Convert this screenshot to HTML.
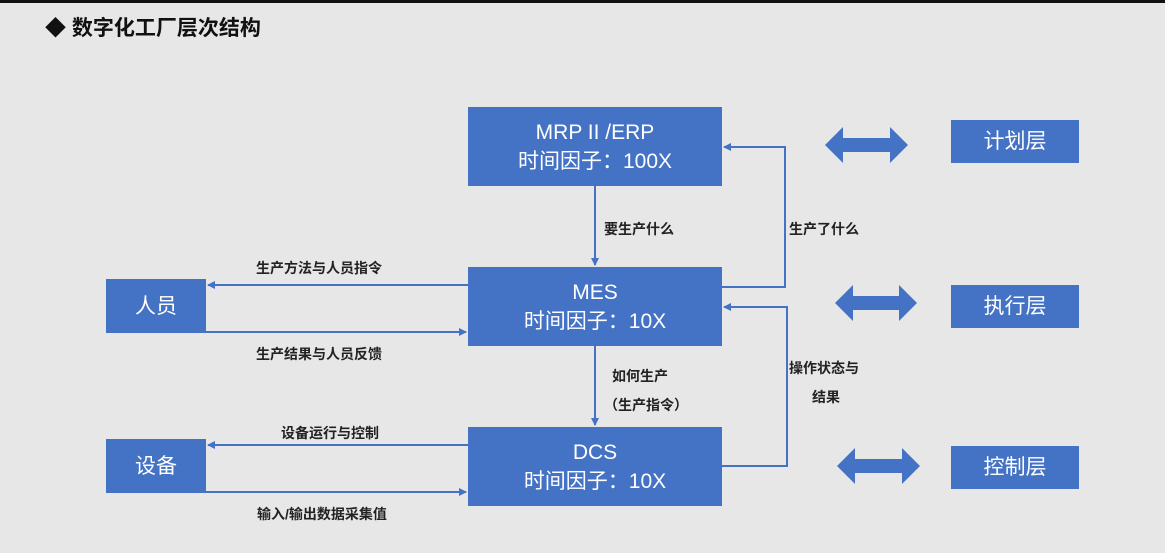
<!DOCTYPE html>
<html><head><meta charset="utf-8"><style>
body{margin:0;width:1165px;height:553px;background:#e7e7e7;position:relative;overflow:hidden;font-family:"Liberation Sans","Noto Sans CJK SC",sans-serif}
.bar{position:absolute;left:0;top:0;width:1165px;height:3px;background:#111}
.title{position:absolute;left:45px;top:12px;font-size:21px;font-weight:bold;color:#111}
.box{position:absolute;background:#4472c4;color:#fff;text-align:center;display:flex;flex-direction:column;justify-content:center;align-items:center}
.big{font-size:21px;line-height:29px}
.lb{position:absolute;font-size:14px;font-weight:bold;color:#222;white-space:nowrap}
svg{position:absolute;left:0;top:0}
</style></head><body>
<div class="bar"></div>
<div class="title">◆ 数字化工厂层次结构</div>
<svg width="1165" height="553">
<defs><marker id="a" markerWidth="8" markerHeight="8" refX="7" refY="4" orient="auto" markerUnits="userSpaceOnUse"><path d="M0,0 L8,4 L0,8 z" fill="#4472c4"/></marker></defs>
<g stroke="#4472c4" stroke-width="2" fill="none">
<line x1="595" y1="186" x2="595" y2="265" marker-end="url(#a)"/>
<line x1="595" y1="346" x2="595" y2="425" marker-end="url(#a)"/>
<polyline points="722,287 785,287 785,147 724,147" marker-end="url(#a)"/>
<polyline points="722,466 787,466 787,307 724,307" marker-end="url(#a)"/>
<line x1="468" y1="285" x2="208" y2="285" marker-end="url(#a)"/>
<line x1="206" y1="332" x2="466" y2="332" marker-end="url(#a)"/>
<line x1="468" y1="445" x2="208" y2="445" marker-end="url(#a)"/>
<line x1="206" y1="492" x2="466" y2="492" marker-end="url(#a)"/>
</g>
<g fill="#4472c4">
<path d="M825,145 L843,127 L843,138 L890,138 L890,127 L908,145 L890,163 L890,152 L843,152 L843,163 Z"/>
<path d="M835,303 L853,285 L853,296 L899,296 L899,285 L917,303 L899,321 L899,310 L853,310 L853,321 Z"/>
<path d="M837,466 L855,448 L855,459 L902,459 L902,448 L920,466 L902,484 L902,473 L855,473 L855,484 Z"/>
</g>
</svg>
<div class="box big" style="left:468px;top:107px;width:254px;height:79px"><div>MRP II /ERP</div><div>时间因子：100X</div></div>
<div class="box big" style="left:468px;top:267px;width:254px;height:79px"><div>MES</div><div>时间因子：10X</div></div>
<div class="box big" style="left:468px;top:427px;width:254px;height:79px"><div>DCS</div><div>时间因子：10X</div></div>
<div class="box big" style="left:106px;top:279px;width:100px;height:54px">人员</div>
<div class="box big" style="left:106px;top:439px;width:100px;height:54px">设备</div>
<div class="box big" style="left:951px;top:120px;width:128px;height:43px">计划层</div>
<div class="box big" style="left:951px;top:285px;width:128px;height:43px">执行层</div>
<div class="box big" style="left:951px;top:446px;width:128px;height:43px">控制层</div>
<div class="lb" style="left:604px;top:219px">要生产什么</div>
<div class="lb" style="left:789px;top:219px">生产了什么</div>
<div class="lb" style="left:256px;top:258px">生产方法与人员指令</div>
<div class="lb" style="left:256px;top:344px">生产结果与人员反馈</div>
<div class="lb" style="left:612px;top:366px">如何生产</div>
<div class="lb" style="left:604px;top:395px">（生产指令）</div>
<div class="lb" style="left:789px;top:358px">操作状态与</div>
<div class="lb" style="left:812px;top:387px">结果</div>
<div class="lb" style="left:281px;top:423px">设备运行与控制</div>
<div class="lb" style="left:257px;top:504px">输入/输出数据采集值</div>
</body></html>
